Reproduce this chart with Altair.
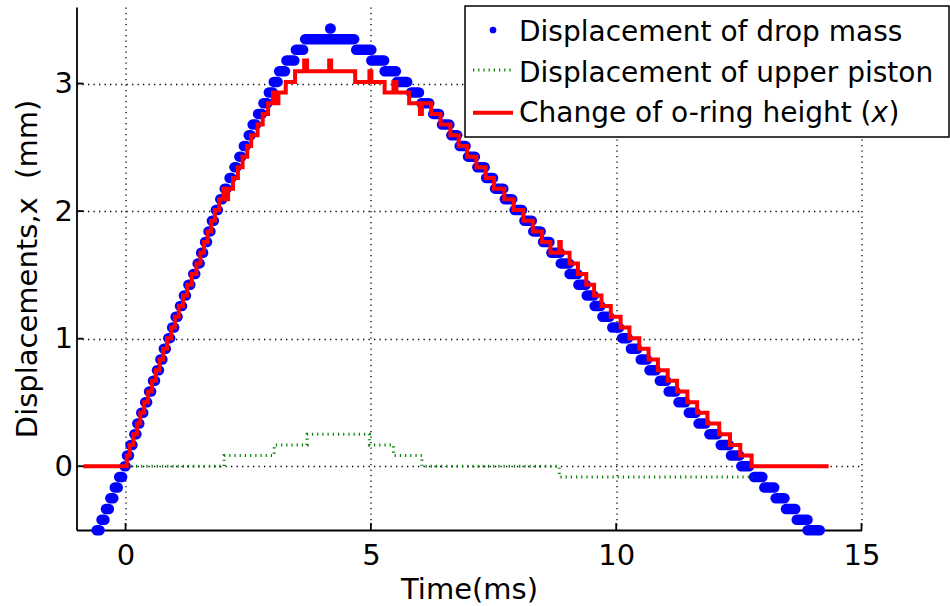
import altair as alt
import pandas as pd

# ---------------- data ----------------
# Drop mass displacement: quantised levels (mm) and the time span (ms) of each run of samples
RISE_LEVEL = [-0.502, -0.419, -0.335, -0.251, -0.167, -0.084, 0.0, 0.084, 0.167, 0.251,
              0.335, 0.419, 0.502, 0.586, 0.670, 0.753, 0.837, 0.921, 1.004, 1.088,
              1.172, 1.256, 1.339, 1.423, 1.507, 1.590, 1.674, 1.758, 1.841, 1.925,
              2.009, 2.093, 2.176, 2.260, 2.344, 2.427, 2.511, 2.595, 2.678, 2.762,
              2.846, 2.930, 3.013, 3.097, 3.181, 3.264, 3.348, 3.432]
RISE_T0 = [-0.59, -0.49, -0.40, -0.31, -0.22, -0.13, -0.02, 0.03, 0.10, 0.18,
           0.24, 0.32, 0.40, 0.48, 0.56, 0.64, 0.71, 0.78, 0.87, 0.95,
           1.02, 1.11, 1.19, 1.28, 1.38, 1.47, 1.54, 1.62, 1.69, 1.76,
           1.84, 1.93, 2.02, 2.12, 2.22, 2.32, 2.41, 2.51, 2.59, 2.70,
           2.81, 2.92, 3.02, 3.13, 3.28, 3.47, 3.66, 4.17]
RISE_T1 = [-0.53, -0.43, -0.34, -0.25, -0.16, -0.07, 0.00, 0.07, 0.14, 0.22,
           0.28, 0.36, 0.44, 0.52, 0.60, 0.68, 0.75, 0.82, 0.91, 0.99,
           1.06, 1.15, 1.23, 1.32, 1.42, 1.51, 1.58, 1.66, 1.73, 1.80,
           1.88, 1.97, 2.06, 2.16, 2.26, 2.36, 2.45, 2.55, 2.66, 2.78,
           2.89, 3.00, 3.10, 3.25, 3.44, 3.62, 4.66, 4.18]

FALL_LEVEL = [3.264, 3.181, 3.097, 3.013, 2.930, 2.846, 2.762, 2.678, 2.595, 2.511,
              2.427, 2.344, 2.260, 2.176, 2.093, 2.009, 1.925, 1.841, 1.758, 1.674,
              1.590, 1.507, 1.423, 1.339, 1.256, 1.172, 1.088, 1.004, 0.921, 0.837,
              0.753, 0.670, 0.586, 0.502, 0.419, 0.335, 0.251, 0.167, 0.084, 0.0,
              -0.084, -0.167, -0.251, -0.335, -0.419, -0.502]
FALL_T0 = [4.70, 5.01, 5.28, 5.53, 5.82, 6.03, 6.27, 6.45, 6.64, 6.81,
           6.98, 7.17, 7.35, 7.53, 7.73, 7.93, 8.13, 8.31, 8.51, 8.68,
           8.87, 9.05, 9.23, 9.40, 9.56, 9.72, 9.92, 10.12, 10.30, 10.50,
           10.68, 10.89, 11.07, 11.27, 11.48, 11.68, 11.90, 12.13, 12.34, 12.55,
           12.81, 13.02, 13.25, 13.46, 13.68, 13.90]
FALL_T1 = [5.01, 5.27, 5.51, 5.74, 5.98, 6.19, 6.39, 6.60, 6.76, 6.93,
           7.12, 7.32, 7.49, 7.70, 7.88, 8.08, 8.28, 8.46, 8.64, 8.85,
           9.04, 9.21, 9.38, 9.54, 9.68, 9.86, 10.06, 10.24, 10.43, 10.63,
           10.81, 11.02, 11.21, 11.41, 11.62, 11.82, 12.06, 12.30, 12.51, 12.71,
           12.98, 13.22, 13.43, 13.65, 13.90, 14.15]

# Upper piston displacement (step line)
PISTON_T = [0.0, 2.01, 3.03, 3.70, 4.97, 5.46, 6.04, 8.84, 12.79]
PISTON_V = [0.0, 0.084, 0.167, 0.251, 0.167, 0.084, 0.0, -0.084, -0.084]

# Change of o-ring height (step line)
ORING_T = [-0.86, 0.025, 0.085, 0.16, 0.23, 0.30, 0.38, 0.46, 0.54, 0.62,
           0.695, 0.765, 0.845, 0.93, 1.005, 1.085, 1.17, 1.255, 1.35, 1.445,
           1.525, 1.60, 1.675, 1.745, 1.82, 1.905, 1.995, 2.03, 2.09, 2.19,
           2.29, 2.385, 2.48, 2.56, 2.69, 2.795, 2.905, 3.005, 3.04, 3.115,
           3.265, 3.455, 3.64, 3.70, 4.15, 4.19, 4.68, 4.97, 5.01, 5.28,
           5.46, 5.52, 5.78, 6.00, 6.04, 6.23, 6.42, 6.62, 6.79, 6.96,
           7.15, 7.34, 7.51, 7.72, 7.91, 8.11, 8.30, 8.49, 8.66, 8.84,
           8.87, 9.05, 9.22, 9.39, 9.55, 9.70, 9.89, 10.09, 10.27, 10.47,
           10.66, 10.85, 11.05, 11.24, 11.45, 11.65, 11.86, 12.10, 12.32, 12.53,
           12.76, 14.33]
ORING_V = [0.000, 0.084, 0.167, 0.251, 0.335, 0.419, 0.502, 0.586, 0.670, 0.753,
           0.837, 0.921, 1.004, 1.088, 1.172, 1.256, 1.339, 1.423, 1.507, 1.590,
           1.674, 1.758, 1.841, 1.925, 2.009, 2.093, 2.176, 2.093, 2.176, 2.260,
           2.344, 2.427, 2.511, 2.595, 2.678, 2.762, 2.846, 2.930, 2.846, 2.930,
           3.013, 3.097, 3.181, 3.097, 3.181, 3.097, 3.013, 3.097, 3.013, 2.930,
           3.013, 2.930, 2.846, 2.762, 2.846, 2.762, 2.678, 2.595, 2.511, 2.427,
           2.344, 2.260, 2.176, 2.093, 2.009, 1.925, 1.841, 1.758, 1.674, 1.758,
           1.674, 1.590, 1.507, 1.423, 1.339, 1.256, 1.172, 1.088, 1.004, 0.921,
           0.837, 0.753, 0.670, 0.586, 0.502, 0.419, 0.335, 0.251, 0.167, 0.084,
           0.000, 0.000]

X_DOMAIN = [-1, 15]
Y_DOMAIN = [-0.5, 3.6]
X_TICKS = [0, 5, 10, 15]
Y_TICKS = [0, 1, 2, 3]
LEGEND_LABELS = ["Displacement of drop mass", "Displacement of upper piston",
                 "Change of o-ring height ("]
LEGEND_ITALIC = "x"
LEGEND_CLOSE = ")"

FONT = "DejaVu Sans"
BLUE = "#0000ff"
GREEN = "#008000"
RED = "#ff0000"

# ---------------- chart ----------------
blue_df = pd.concat([
    pd.DataFrame({"t0": RISE_T0, "t1": RISE_T1, "v": RISE_LEVEL}),
    pd.DataFrame({"t0": FALL_T0, "t1": FALL_T1, "v": FALL_LEVEL}),
], ignore_index=True)
green_df = pd.DataFrame({"t": PISTON_T, "v": PISTON_V})
red_df = pd.DataFrame({"t": ORING_T, "v": ORING_V})
xt_df = pd.DataFrame({"tick": X_TICKS})
yt_df = pd.DataFrame({"tick": Y_TICKS})

xscale = alt.Scale(domain=X_DOMAIN, nice=False, zero=False)
yscale = alt.Scale(domain=Y_DOMAIN, nice=False, zero=False)
xaxis = alt.Axis(values=X_TICKS, title="Time(ms)", grid=True, ticks=False, tickSize=0,
                 labelPadding=11, labelFlush=False, labelOverlap=False, labelBound=False,
                 titleY=68, titleBaseline="alphabetic")
yaxis = alt.Axis(values=Y_TICKS, title="Displacements,x\u00a0 (mm)", grid=True, ticks=False,
                 tickSize=0, labelPadding=4, labelFlush=False, labelOverlap=False,
                 titleX=-40.5, titleY=261.5, titleAngle=270, titleBaseline="alphabetic",
                 titleAlign="center")


def X(field):
    return alt.X(field, type="quantitative", scale=xscale, axis=xaxis)


def Y(field):
    return alt.Y(field, type="quantitative", scale=yscale, axis=yaxis)


blue = alt.Chart(blue_df).mark_rule(color=BLUE, strokeWidth=10.5, strokeCap="round").encode(
    x=X("t0"), x2="t1", y=Y("v"))
green = alt.Chart(green_df).mark_line(interpolate="step-after", color=GREEN, strokeWidth=3,
                                      strokeDash=[1.2, 4]).encode(x=X("t"), y=Y("v"))
red = alt.Chart(red_df).mark_line(interpolate="step-after", color=RED, strokeWidth=4).encode(
    x=X("t"), y=Y("v"))

xticks = alt.Chart(xt_df).mark_rule(color="black", strokeWidth=1.8).encode(
    x=X("tick"), y=alt.value(523), y2=alt.value(516))
yticks = alt.Chart(yt_df).mark_rule(color="black", strokeWidth=1.8).encode(
    y=Y("tick"), x=alt.value(0), x2=alt.value(7))

one = alt.Data(values=[{}])
leg_box = alt.Chart(one).mark_rect(fill="white", stroke="black", strokeWidth=1.5).encode(
    x=alt.value(388.5), x2=alt.value(872.5), y=alt.value(-1), y2=alt.value(130))
leg_dot = alt.Chart(one).mark_point(filled=True, shape="circle", size=45, color=BLUE,
                                    opacity=1).encode(x=alt.value(416.5), y=alt.value(23))
leg_green = alt.Chart(one).mark_rule(color=GREEN, strokeWidth=3, strokeDash=[1.2, 4]).encode(
    x=alt.value(396.5), x2=alt.value(436.5), y=alt.value(63))
leg_red = alt.Chart(one).mark_rule(color=RED, strokeWidth=4).encode(
    x=alt.value(396.5), x2=alt.value(436.5), y=alt.value(105.7))

leg_texts = []
for label, ypos in zip(LEGEND_LABELS, [33.5, 74.5, 115]):
    leg_texts.append(alt.Chart(one).mark_text(
        align="left", baseline="alphabetic", font=FONT, fontSize=28, color="black").encode(
        x=alt.value(442.5), y=alt.value(ypos), text=alt.value(label)))
leg_texts.append(alt.Chart(one).mark_text(
    align="left", baseline="alphabetic", font=FONT, fontSize=28, fontStyle="italic",
    color="black").encode(x=alt.value(795), y=alt.value(115), text=alt.value(LEGEND_ITALIC)))
leg_texts.append(alt.Chart(one).mark_text(
    align="left", baseline="alphabetic", font=FONT, fontSize=28, color="black").encode(
    x=alt.value(812), y=alt.value(115), text=alt.value(LEGEND_CLOSE)))

chart = alt.layer(
    blue, green, red, xticks, yticks, leg_box, leg_dot, leg_green, leg_red, *leg_texts
).properties(
    width=785, height=523,
    padding={"left": 76.5, "top": 7, "right": 88.5, "bottom": 76},
    autosize=alt.AutoSizeParams(type="none"),
).configure(
    background="white",
).configure_view(
    stroke=None,
).configure_axis(
    labelFont=FONT, labelFontSize=29, labelColor="black",
    titleFont=FONT, titleFontSize=29, titleFontWeight="normal", titleColor="black",
    domainColor="black", domainWidth=1.8,
    gridColor="black", gridDash=[1.3, 4.2], gridWidth=1.3, gridOpacity=1,
)

chart.save("out.html", embed_options={"renderer": "svg", "actions": False})
